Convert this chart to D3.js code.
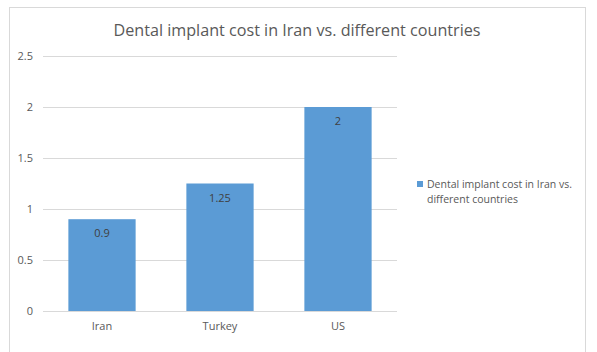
<!DOCTYPE html>
<html>
<head>
<meta charset="utf-8">
<script src="https://cdn.jsdelivr.net/npm/d3@7"></script>
<style>
  body { margin: 0; background: #fff; }
  svg { display: block; font-family: "Open Sans", "Liberation Sans", sans-serif; }
</style>
</head>
<body>
<div id="chart"></div>
<script>
const countries = ["Iran", "Turkey", "US"];
const costs = [0.9, 1.25, 2];
const yTicks = [0, 0.5, 1, 1.5, 2, 2.5];
const title = "Dental implant cost in Iran vs. different countries";
const seriesName = ["Dental implant cost in Iran vs.", "different countries"];

const width = 597, height = 352;
const svg = d3.select("#chart").append("svg")
  .attr("width", width)
  .attr("height", height);

// chart frame
svg.append("rect")
  .attr("x", 9.5).attr("y", 7.5)
  .attr("width", 576).attr("height", 360)
  .attr("fill", "#fff")
  .attr("stroke", "#d9d9d9");

const x = d3.scaleBand()
  .domain(countries)
  .range([43, 397])
  .paddingInner(0.43)
  .paddingOuter(0.215);

const y = d3.scaleLinear()
  .domain([0, 2.5])
  .range([311, 56]);

// gridlines
svg.append("g")
  .selectAll("line")
  .data(yTicks)
  .join("line")
  .attr("x1", 43).attr("x2", 397)
  .attr("y1", d => Math.round(y(d)) + 0.5)
  .attr("y2", d => Math.round(y(d)) + 0.5)
  .attr("stroke", "#d9d9d9");

// y labels
svg.append("g")
  .selectAll("text")
  .data(yTicks)
  .join("text")
  .attr("x", 33)
  .attr("y", d => y(d) + 4)
  .attr("text-anchor", "end")
  .attr("font-size", 11)
  .attr("fill", "#595959")
  .text(d => d);

// bars
const data = countries.map((c, i) => ({ c, v: costs[i] }));
svg.append("g")
  .selectAll("rect")
  .data(data)
  .join("rect")
  .attr("x", d => x(d.c))
  .attr("y", d => y(d.v))
  .attr("width", x.bandwidth())
  .attr("height", d => y(0) - y(d.v))
  .attr("fill", "#5b9bd5");

// value labels
svg.append("g")
  .selectAll("text")
  .data(data)
  .join("text")
  .attr("x", d => x(d.c) + x.bandwidth() / 2)
  .attr("y", d => y(d.v) + 18)
  .attr("text-anchor", "middle")
  .attr("font-size", 11)
  .attr("fill", "#404040")
  .text(d => d.v);

// x labels
svg.append("g")
  .selectAll("text")
  .data(countries)
  .join("text")
  .attr("x", d => x(d) + x.bandwidth() / 2)
  .attr("y", 330)
  .attr("text-anchor", "middle")
  .attr("font-size", 11)
  .attr("fill", "#595959")
  .text(d => d);

// title
svg.append("text")
  .attr("x", 297)
  .attr("y", 36)
  .attr("text-anchor", "middle")
  .attr("font-size", 17)
  .attr("fill", "#595959")
  .attr("textLength", 367)
  .attr("lengthAdjust", "spacingAndGlyphs")
  .text(title);

// legend
svg.append("rect")
  .attr("x", 417).attr("y", 181)
  .attr("width", 6).attr("height", 6)
  .attr("fill", "#5b9bd5");

svg.append("g")
  .selectAll("text")
  .data(seriesName)
  .join("text")
  .attr("x", 427)
  .attr("y", (d, i) => 188 + i * 15)
  .attr("font-size", 10.5)
  .attr("fill", "#595959")
  .text(d => d);
</script>
</body>
</html>
